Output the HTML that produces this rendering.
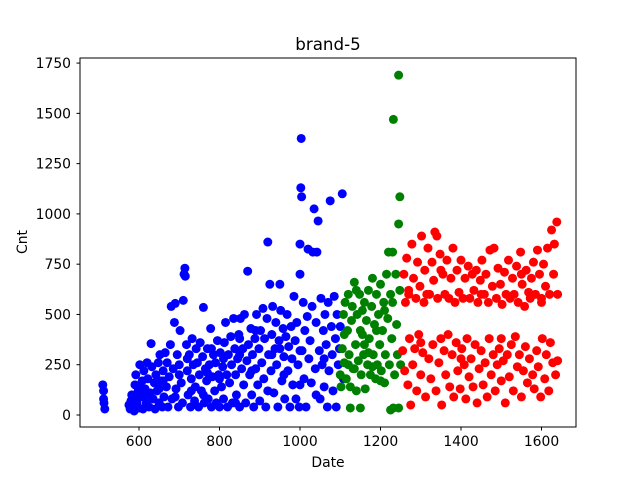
<!DOCTYPE html>
<html><head><meta charset="utf-8">
<style>
body{margin:0;background:#fff;}
svg text{font-family:"DejaVu Sans","Liberation Sans",sans-serif;fill:#000;}
</style></head>
<body>
<svg id="chart" width="640" height="480" xmlns="http://www.w3.org/2000/svg">
<rect width="640" height="480" fill="#fff"/>
<g id="marks"></g>
<rect x="80" y="58" width="496" height="369" fill="none" stroke="#000" stroke-width="1"/>
<g id="axes"></g>
<text x="328" y="50" font-size="16.7" text-anchor="middle">brand-5</text>
<text x="328" y="467" font-size="13.9" text-anchor="middle">Date</text>
<text x="27" y="242" font-size="13.9" text-anchor="middle" transform="rotate(-90 27 242)">Cnt</text>
</svg>
<script>
const xTicks=[600,800,1000,1200,1400,1600];
const yTicks=[0,250,500,750,1000,1250,1500,1750];
const blueSeries=[510,150,512,120,512,80,515,30,513,60,575,50,578,30,580,70,582,100,585,40,588,20,590,150,592,200,595,60,598,120,600,35,602,250,605,90,608,170,610,30,612,220,615,130,618,60,620,260,622,180,625,40,628,110,630,355,632,240,635,80,638,160,640,30,642,200,645,120,648,260,650,60,652,300,655,170,658,40,660,220,662,90,665,310,668,140,670,260,672,40,675,190,678,350,680,540,682,80,685,230,688,460,690,555,692,130,695,300,698,40,700,250,702,420,705,160,708,60,710,570,712,700,714,730,715,690,718,350,720,220,722,100,725,300,728,40,730,180,732,380,735,250,738,70,740,140,742,330,745,260,748,40,750,200,752,360,755,120,758,290,760,535,762,60,765,230,768,170,770,330,772,80,775,250,778,430,780,40,782,190,785,300,788,120,790,260,792,60,795,370,798,200,800,40,802,310,805,140,808,240,810,80,812,360,815,460,818,200,820,40,822,300,825,160,828,390,830,250,832,60,835,480,838,330,840,200,842,100,845,280,848,400,850,40,852,480,855,230,858,330,860,150,862,500,865,60,868,270,870,715,872,350,875,200,878,430,880,100,882,300,885,40,888,380,890,230,892,500,895,150,898,330,900,70,902,420,905,260,908,530,910,180,912,380,915,40,918,480,920,860,922,300,925,650,928,220,930,400,932,540,935,110,938,330,940,460,942,250,945,40,948,370,950,650,952,520,955,170,958,430,960,290,962,80,965,390,968,500,970,220,972,340,975,40,978,440,980,280,982,150,985,590,988,370,990,80,992,460,995,250,998,40,1000,700,1000,850,1002,1130,1003,1375,1004,1085,1005,320,1008,560,1010,180,1012,420,1015,40,1018,490,1020,825,1022,280,1025,370,1028,160,1030,540,1032,810,1035,1025,1038,230,1040,460,1042,810,1045,965,1048,320,1050,80,1052,580,1055,250,1058,420,1060,140,1062,500,1065,350,1068,40,1070,560,1072,220,1075,1065,1078,440,1080,300,1082,120,1085,590,1088,380,1090,40,1092,500,1095,250,1098,330,1100,440,1105,1100,1108,180,1000,320,950,330,850,380,780,330,700,200,660,170,620,100,600,140,720,280,760,100,800,180,840,60,880,220,920,120,960,200,1000,150,1040,100,1060,280,590,90,610,110,650,130,690,90,730,120,770,210,810,280,850,300,890,420,930,300];
const greenSeries=[1100,200,1102,140,1105,330,1108,500,1110,260,1112,560,1115,180,1118,420,1120,600,1122,300,1125,35,1125,140,1128,470,1130,540,1132,230,1135,660,1138,350,1140,120,1142,500,1145,270,1148,600,1150,35,1150,420,1152,200,1155,520,1158,300,1160,560,1162,130,1165,470,1168,250,1170,620,1172,380,1175,200,1178,540,1180,680,1182,300,1185,450,1188,180,1190,600,1192,250,1195,500,1198,350,1200,650,1202,220,1205,420,1208,560,1210,160,1212,300,1215,700,1218,480,1220,810,1222,250,1225,25,1225,600,1228,380,1230,810,1232,1470,1232,35,1235,200,1238,700,1240,450,1242,300,1245,1690,1245,950,1245,35,1248,1085,1248,620,1250,250,1140,620,1160,350,1180,240,1200,170,1120,250,1110,400,1170,310,1190,420,1210,520,1230,560,1155,400,1135,230];
const redSeries=[1255,320,1258,700,1260,220,1262,560,1265,780,1268,150,1270,620,1272,380,1275,50,1278,850,1280,250,1282,680,1285,330,1288,580,1290,120,1292,760,1295,400,1298,640,1300,200,1302,890,1305,310,1308,560,1310,720,1312,90,1315,600,1318,830,1320,280,1322,600,1325,180,1328,760,1330,350,1332,670,1335,910,1338,120,1340,890,1342,580,1345,260,1348,800,1350,380,1352,50,1355,700,1358,320,1360,600,1362,200,1365,770,1368,400,1370,580,1372,140,1375,680,1378,300,1380,830,1382,90,1385,560,1388,360,1390,720,1392,220,1395,610,1398,130,1400,770,1402,330,1405,580,1408,250,1410,680,1412,80,1415,380,1418,740,1420,190,1422,580,1425,280,1428,700,1430,140,1432,620,1435,350,1438,720,1440,60,1442,560,1445,230,1448,670,1450,320,1452,770,1455,150,1458,600,1460,260,1462,700,1465,90,1468,560,1470,380,1472,820,1475,200,1478,640,1480,300,1482,830,1485,120,1488,580,1490,250,1492,730,1495,330,1498,650,1500,170,1502,550,1505,270,1508,710,1510,60,1512,600,1515,300,1518,770,1520,190,1522,580,1525,350,1528,680,1530,120,1532,600,1535,390,1538,740,1540,240,1542,560,1545,300,1548,810,1550,90,1552,650,1555,220,1558,540,1560,340,1562,720,1565,160,1568,610,1570,280,1572,580,1575,680,1578,200,1580,760,1582,130,1585,600,1588,320,1590,820,1592,240,1595,700,1598,90,1600,560,1602,380,1605,750,1608,180,1610,640,1612,300,1615,830,1618,120,1620,600,1622,360,1625,920,1628,260,1630,700,1632,850,1635,200,1638,960,1640,600,1640,270,1270,600,1300,360,1350,720,1400,280,1450,600,1500,380,1550,700,1600,580];

const NS="http://www.w3.org/2000/svg";
function xs(d){return 139+(d-600)*0.4025;}
function ys(v){return 415-v*0.2011;}
const marks=document.getElementById('marks');
function drawSeries(arr,color,name){
  for(let i=0;i<arr.length;i+=2){
    const c=document.createElementNS(NS,'circle');
    c.setAttribute('cx',xs(arr[i]));c.setAttribute('cy',ys(arr[i+1]));
    c.setAttribute('r',4.5);c.setAttribute('fill',color);
    
    
    marks.appendChild(c);
  }
}
drawSeries(blueSeries,'#0000ff','blue-point');
drawSeries(greenSeries,'#008000','green-point');
drawSeries(redSeries,'#ff0000','red-point');
const axes=document.getElementById('axes');
xTicks.forEach(t=>{
  const l=document.createElementNS(NS,'line');
  l.setAttribute('x1',xs(t));l.setAttribute('x2',xs(t));l.setAttribute('y1',427);l.setAttribute('y2',430.5);l.setAttribute('stroke','#000');
  
  
  axes.appendChild(l);
  const tx=document.createElementNS(NS,'text');
  tx.setAttribute('x',xs(t));tx.setAttribute('y',446);tx.setAttribute('font-size','13.9');tx.setAttribute('text-anchor','middle');
  tx.textContent=t;
  
  
  axes.appendChild(tx);
});
yTicks.forEach(t=>{
  const l=document.createElementNS(NS,'line');
  l.setAttribute('x1',76.5);l.setAttribute('x2',80);l.setAttribute('y1',ys(t));l.setAttribute('y2',ys(t));l.setAttribute('stroke','#000');
  
  
  axes.appendChild(l);
  const tx=document.createElementNS(NS,'text');
  tx.setAttribute('x',71);tx.setAttribute('y',ys(t)+5);tx.setAttribute('font-size','13.9');tx.setAttribute('text-anchor','end');
  tx.textContent=t;
  
  
  axes.appendChild(tx);
});
</script>
</body></html>
